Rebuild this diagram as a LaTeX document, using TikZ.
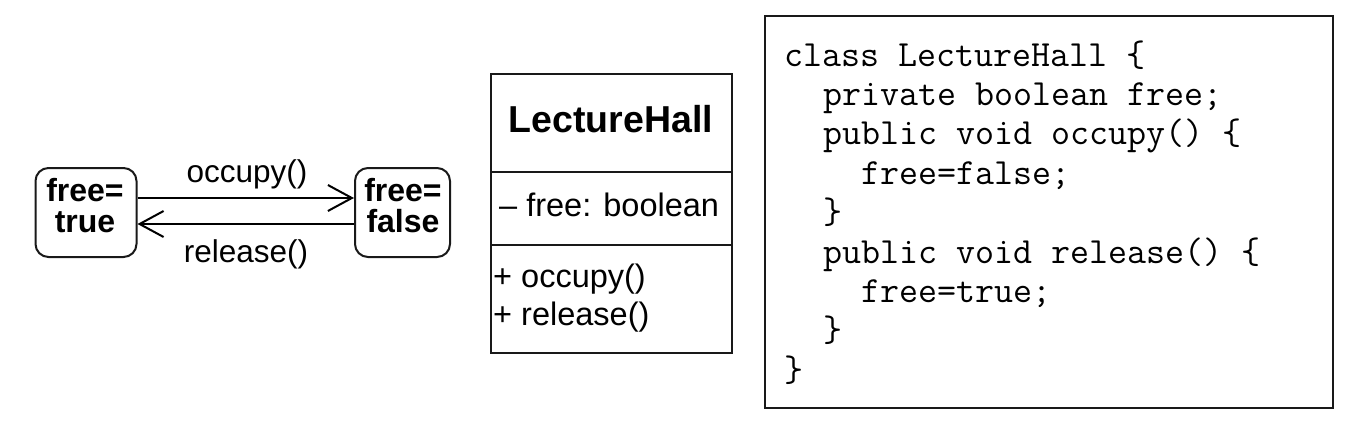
\documentclass[tikz,border=0pt]{standalone}
\usepackage{fontspec}
\setmainfont{Liberation Sans}
\usetikzlibrary{arrows.meta}
\begin{document}
\begin{tikzpicture}[x=1pt,y=-1pt,
  statebox/.style={draw=black!90,line width=2pt,rounded corners=13pt,minimum width=101pt,minimum height=89pt,inner sep=0pt},
  statetxt/.style={anchor=base,inner sep=0pt,font=\fontsize{32}{30}\selectfont\bfseries},
  lbl/.style={anchor=base,inner sep=0pt,font=\fontsize{31.5}{36}\selectfont},
  cltxt/.style={anchor=base west,inner sep=0pt,font=\fontsize{32.5}{36}\selectfont},
  codetxt/.style={anchor=base west,inner sep=0pt,font=\fontsize{36.9}{39.4}\ttfamily},
  trans/.style={line width=2pt,-{Straight Barb[length=24pt,width=26pt,line width=2pt]}}
]
\useasboundingbox (0,0) rectangle (1354,426);
% states
\node[statebox] (s1) at (86,212.5) {};
\node[statebox,minimum width=95pt] (s2) at (402.5,212.5) {};
\node[statetxt] (s1a) at (85,201) {free=};
\node[statetxt] (s1b) at (85,232) {true};
\node[statetxt] (s2a) at (403,201) {free=};
\node[statetxt] (s2b) at (403,232) {false};
\draw[trans] ([yshift=14.5pt]s1.east) -- ([yshift=14.5pt]s2.west);
\draw[trans] ([yshift=-11.5pt]s2.west) -- ([yshift=-11.5pt]s1.east);
\node[lbl] (occ) at (247,182) {occupy()};
\node[lbl] (rel) at (246,262) {release()};
% class box
\node[draw=black!90,line width=2pt,minimum width=241pt,minimum height=279pt,inner sep=0pt] (cls) at (611.5,213.5) {};
\draw[line width=2pt,black!90] (cls.west |- 0,172) -- (cls.east |- 0,172);
\draw[line width=2pt,black!90] (cls.west |- 0,245) -- (cls.east |- 0,245);
\node[anchor=base,inner sep=0pt,font=\fontsize{37.5}{40}\selectfont\bfseries] (clname) at (611,132) {LectureHall};
\node[cltxt] (attr) at (499,216) {– free: boolean};
\node[cltxt] (op1) at (493,287) {+ occupy()};
\node[cltxt] (op2) at (493,325) {+ release()};
% code box
\node[draw=black!90,line width=2.5pt,minimum width=568pt,minimum height=392pt,inner sep=0pt] (code) at (1049,212) {};
\node[codetxt] (c1) at (784,66) {class LectureHall \{};
\node[codetxt] (c2) at (822.8,105.4) {private boolean free;};
\node[codetxt] (c3) at (822.8,144.8) {public void occupy() \{};
\node[codetxt] (c4) at (861.6,184.2) {free=false;};
\node[codetxt] (c5) at (822.8,223.6) {\}};
\node[codetxt] (c6) at (822.8,263) {public void release() \{};
\node[codetxt] (c7) at (861.6,302.4) {free=true;};
\node[codetxt] (c8) at (822.8,341.8) {\}};
\node[codetxt] (c9) at (784,381.2) {\}};
\end{tikzpicture}
\end{document}
